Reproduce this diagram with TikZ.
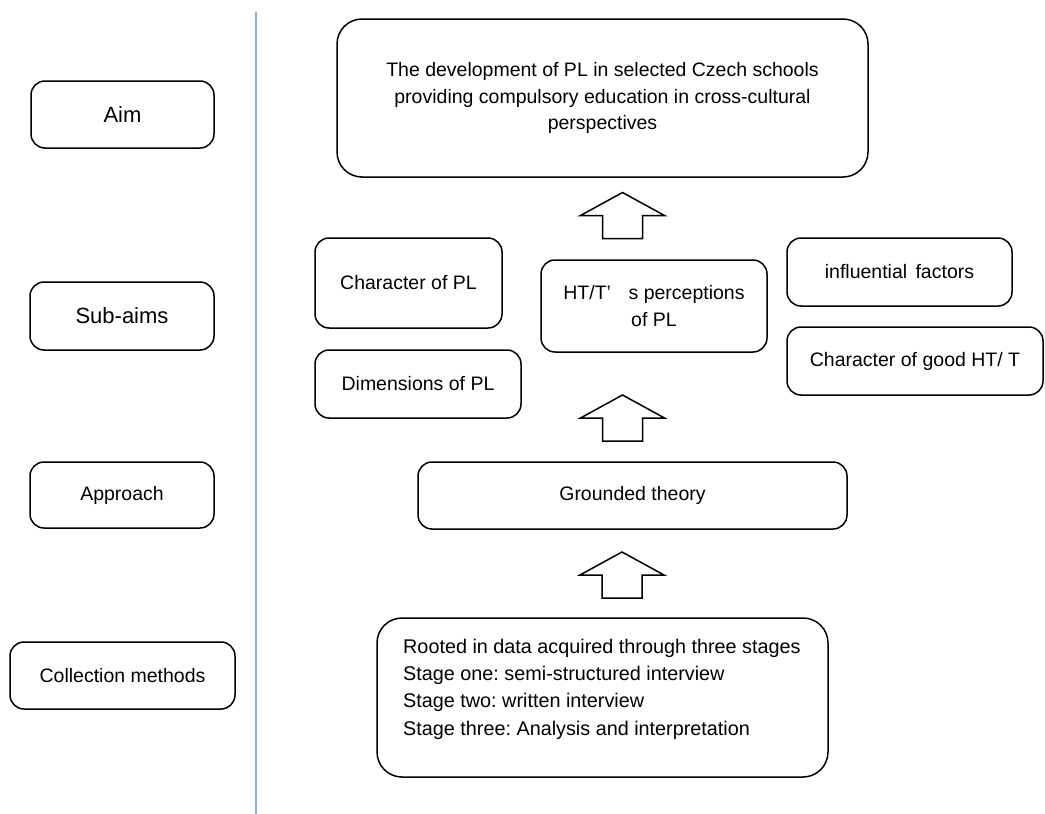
\documentclass[tikz,border=0pt]{standalone}
\usepackage{fontspec}
\setmainfont{Liberation Sans}
\definecolor{divblue}{HTML}{8FAADC}
\begin{document}
\begin{tikzpicture}[x=1pt,y=-1pt,
  box/.style={draw, line width=1.5pt, rounded corners=14pt, align=center,
    inner sep=0pt, font=\fontsize{19.5}{26.5}\selectfont\frenchspacing},
  bigbox/.style={box, font=\fontsize{22}{26}\selectfont},
  blockarrow/.style={draw, line width=1.5pt, fill=white, line join=miter},
  divider/.style={draw=divblue, line width=1.4pt}
]
\useasboundingbox (0,0) rectangle (1045,814);

% divider
\coordinate (dtop) at (256,12);
\coordinate (dbot) at (256,814);
\draw[divider] (dtop) -- (dbot);

% left column
\node[bigbox, minimum width=183pt, minimum height=67pt] (aim) at (122.5,114.5) {Aim};
\node[bigbox, minimum width=184pt, minimum height=68pt] (subaims) at (122,316) {Sub-aims};
\node[box, minimum width=184pt, minimum height=66pt] (approach) at (122,495) {Approach};
\node[box, minimum width=225pt, minimum height=67pt] (collect) at (122.5,675.5) {Collection methods};

% right column
\node[box, rounded corners=25pt, minimum width=531pt, minimum height=158pt] (top) at (602.5,98)
  {The development of PL in selected Czech schools\\providing compulsory education in cross-cultural\\perspectives};

\node[box, minimum width=187pt, minimum height=90pt] (charpl) at (408.5,283) {Character of PL};
\node[box, minimum width=206pt, minimum height=68pt] (dimpl) at (418,384) {Dimensions of PL};
\node[box, minimum width=226pt, minimum height=92pt] (htt) at (654,306) {HT/T’\hspace{0.9em}s perceptions\\of PL};
\node[box, minimum width=225pt, minimum height=68pt] (infl) at (899.5,272) {influential\hspace{0.15em} factors};
\node[box, minimum width=256pt, minimum height=68pt] (good) at (915,361) {Character of good HT/ T};

\node[box, minimum width=429pt, minimum height=67pt] (grounded) at (632.5,495.5) {Grounded theory};

\node[box, rounded corners=25pt, minimum width=451pt, minimum height=159pt] (stages) at (602.5,697.5) {};
\node[align=left, anchor=west, inner sep=0pt, font=\fontsize{19.8}{27.3}\selectfont\frenchspacing] (stagestext) at (403,689)
  {Rooted in data acquired through three stages\\Stage one: semi-structured interview\\Stage two: written interview\\Stage three: Analysis and interpretation};

% block arrows
\newcommand{\blockarrowat}[2]{%
  \draw[blockarrow] (#1-20,#2+46) -- (#1-20,#2+23) -- (#1-42,#2+23) -- (#1,#2) -- (#1+42,#2+23) -- (#1+20,#2+23) -- (#1+20,#2+46) -- cycle;}
\blockarrowat{622.5}{192.5}
\blockarrowat{622.5}{395}
\blockarrowat{622}{552}
\end{tikzpicture}
\end{document}
